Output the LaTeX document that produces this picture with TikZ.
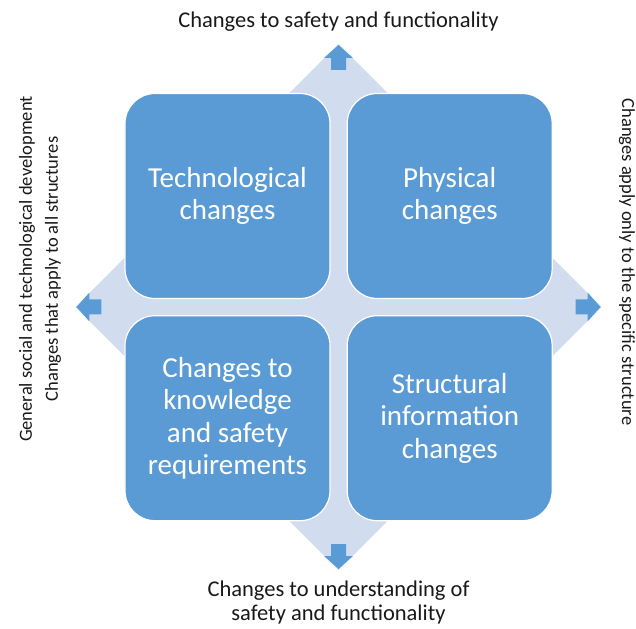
\documentclass[tikz,border=0pt]{standalone}
\usepackage{fontspec}
\setmainfont{Carlito}
\usetikzlibrary{positioning}
\definecolor{tileblue}{HTML}{5B9BD5}
\definecolor{diamondblue}{HTML}{D1DDEF}
\tikzstyle{tile}=[draw=white, line width=1.2pt, fill=tileblue, rounded corners=30pt, minimum size=205pt, inner sep=0pt, align=center, text=white, font=\fontsize{29}{32.5}\selectfont]
\tikzstyle{axislabel}=[font=\fontsize{22.5}{24}\selectfont, align=center, text=black!90, inner sep=0pt]
\tikzstyle{sidelabel}=[axislabel, font=\fontsize{18.5}{26}\selectfont]

\begin{document}
\begin{tikzpicture}[x=1pt, y=1pt]
\useasboundingbox (-338.5,-321) rectangle (297.5,307);
\foreach \n/\ang in {0/0, 1/90, 2/180, 3/270} {
	\coordinate (d\n) at (\ang:263);
}
\fill[diamondblue] (d0) -- (d1) -- (d2) -- (d3) -- cycle;
\foreach \ang in {0,90,180,270} {
	\fill[tileblue, rotate=\ang] (237,-7.5) -- (249,-7.5) -- (249,-14.5) -- (262,0) -- (249,14.5) -- (249,7.5) -- (237,7.5) -- cycle;
}
\node[tile] (tech) at (-111,111) {Technological\\changes};
\node[tile, right=16pt of tech] (phys) {Physical\\changes};
\node[tile, below=16pt of tech] (know) {Changes to\\knowledge\\and safety\\requirements};
\node[tile, below=16pt of phys] (info) {Structural\\information\\changes};
\node[axislabel, anchor=base] (up) at (0,279) {Changes to safety and functionality};
\node[axislabel, anchor=base] (down) at (0,-313) {Changes to understanding of\\safety and functionality};
\node[sidelabel, rotate=90] (general) at (-298.5,38) {General social and technological development\\Changes that apply to all structures};
\node[sidelabel, rotate=-90] (specific) at (288.5,45) {Changes apply only to the specific structure};
\end{tikzpicture}
\end{document}
